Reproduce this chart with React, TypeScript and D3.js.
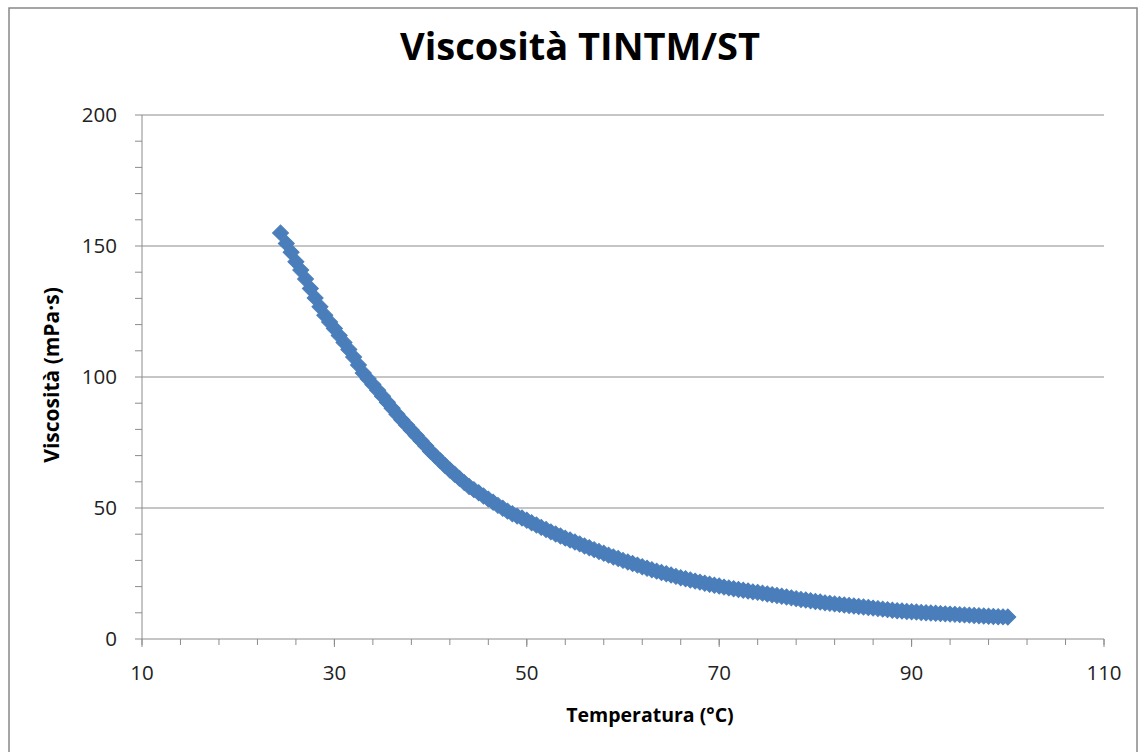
import React from "react";
import * as d3 from "d3";

const temperatures: number[] = [
  24.4, 25.0, 25.5, 26.0, 26.5, 27.0, 27.5, 28.0, 28.5, 29.0, 29.5, 30.0, 30.5, 31.0, 31.5,
  32.0, 32.5, 33.0, 33.5, 34.0, 34.5, 35.0, 35.5, 36.0, 36.5, 37.0, 37.5, 38.0, 38.5, 39.0,
  39.5, 40.0, 40.5, 41.0, 41.5, 42.0, 42.5, 43.0, 43.5, 44.0, 44.5, 45.0, 45.5, 46.0, 46.5,
  47.0, 47.5, 48.0, 48.5, 49.0, 49.5, 50.0, 50.5, 51.0, 51.5, 52.0, 52.5, 53.0, 53.5, 54.0,
  54.5, 55.0, 55.5, 56.0, 56.5, 57.0, 57.5, 58.0, 58.5, 59.0, 59.5, 60.0, 60.5, 61.0, 61.5,
  62.0, 62.5, 63.0, 63.5, 64.0, 64.5, 65.0, 65.5, 66.0, 66.5, 67.0, 67.5, 68.0, 68.5, 69.0,
  69.5, 70.0, 70.5, 71.0, 71.5, 72.0, 72.5, 73.0, 73.5, 74.0, 74.5, 75.0, 75.5, 76.0, 76.5,
  77.0, 77.5, 78.0, 78.5, 79.0, 79.5, 80.0, 80.5, 81.0, 81.5, 82.0, 82.5, 83.0, 83.5, 84.0,
  84.5, 85.0, 85.5, 86.0, 86.5, 87.0, 87.5, 88.0, 88.5, 89.0, 89.5, 90.0, 90.5, 91.0, 91.5,
  92.0, 92.5, 93.0, 93.5, 94.0, 94.5, 95.0, 95.5, 96.0, 96.5, 97.0, 97.5, 98.0, 98.5, 99.0,
  99.5, 100.0,
];

const viscosities: number[] = [
  155.0, 151.0, 147.6, 144.0, 140.8, 137.4, 133.8, 130.2, 126.8, 123.6, 121.0, 118.5, 115.8, 113.2, 110.5,
  107.6, 104.6, 101.5, 99.3, 97.1, 94.9, 92.7, 90.4, 88.1, 85.8, 83.7, 81.7, 79.7, 77.7, 75.7,
  73.7, 71.6, 69.8, 68.0, 66.2, 64.5, 62.9, 61.3, 59.7, 58.2, 57.0, 55.8, 54.6, 53.4, 52.2,
  51.0, 49.9, 48.8, 47.8, 46.9, 46.2, 45.3, 44.4, 43.5, 42.6, 41.8, 40.9, 40.1, 39.3, 38.5,
  37.8, 37.0, 36.3, 35.5, 34.8, 34.1, 33.4, 32.7, 32.0, 31.3, 30.7, 30.0, 29.4, 28.8, 28.2,
  27.6, 27.0, 26.4, 25.9, 25.4, 24.9, 24.4, 23.9, 23.4, 23.0, 22.5, 22.1, 21.7, 21.3, 20.9,
  20.5, 20.2, 19.8, 19.5, 19.2, 18.9, 18.6, 18.3, 18.0, 17.8, 17.5, 17.2, 16.9, 16.6, 16.3,
  16.0, 15.7, 15.4, 15.1, 14.9, 14.6, 14.3, 14.1, 13.8, 13.6, 13.4, 13.2, 13.0, 12.8, 12.6,
  12.4, 12.2, 12.0, 11.8, 11.6, 11.4, 11.2, 11.0, 10.8, 10.7, 10.5, 10.4, 10.3, 10.1, 10.0,
  9.9, 9.8, 9.7, 9.6, 9.5, 9.4, 9.3, 9.2, 9.1, 9.0, 8.9, 8.8, 8.7, 8.6, 8.5,
  8.45, 8.4,
];

const xTicks: number[] = [10, 30, 50, 70, 90, 110];
const yTicks: number[] = [0, 50, 100, 150, 200];
const xMinorStep = 4;
const yMinorStep = 10;

const title = "Viscosità TINTM/ST";
const xTitle = "Temperatura (°C)";
const yTitle = "Viscosità (mPa·s)";

export default function App() {
  const W = 1140;
  const H = 752;
  const left = 142;
  const right = 1104;
  const top = 115;
  const bottom = 639;

  const x = d3.scaleLinear().domain([10, 110]).range([left, right]);
  const y = d3.scaleLinear().domain([0, 200]).range([bottom, top]);

  const xMinor = d3.range(10, 110 + 0.001, xMinorStep);
  const yMinor = d3.range(0, 200 + 0.001, yMinorStep);

  const marker = d3.symbol().type(d3.symbolSquare).size(128)() as string;
  const axisColor = "#8c8c8c";
  const gridColor = "#8c8c8c";
  const blue = "#4a7ebb";
  const font = "'Open Sans', 'Noto Sans', sans-serif";

  return (
    <svg
      width={W}
      height={H}
      style={{ position: "absolute", left: 0, top: 0, background: "#fff" }}
      fontFamily={font}
    >
      <rect x={0} y={0} width={W} height={H} fill="#fff" />
      <rect x={9} y={8} width={1128} height={800} fill="#fff" stroke="#888" strokeWidth={1.5} />

      {yTicks.filter((t) => t > 0).map((t) => (
        <line key={"g" + t} x1={left} x2={right} y1={y(t)} y2={y(t)} stroke={gridColor} strokeWidth={1} />
      ))}

      <line x1={left} x2={left} y1={top} y2={bottom} stroke={axisColor} strokeWidth={1} />
      {yMinor.map((t) => (
        <line key={"ym" + t} x1={left - 7} x2={left} y1={y(t)} y2={y(t)} stroke={axisColor} strokeWidth={1} />
      ))}
      {yTicks.map((t) => (
        <text key={"yl" + t} x={117} y={y(t)} dy="0.35em" textAnchor="end" fontSize={20.5} fill="#222">
          {t}
        </text>
      ))}

      <line x1={left} x2={right} y1={bottom} y2={bottom} stroke={axisColor} strokeWidth={1.2} />
      {xMinor.map((t) => (
        <line key={"xm" + t} x1={x(t)} x2={x(t)} y1={bottom} y2={bottom + 6} stroke={axisColor} strokeWidth={1} />
      ))}
      {xTicks.map((t) => (
        <line key={"xM" + t} x1={x(t)} x2={x(t)} y1={bottom} y2={bottom + 8} stroke={axisColor} strokeWidth={1} />
      ))}
      {xTicks.map((t) => (
        <text key={"xl" + t} x={x(t)} y={680} textAnchor="middle" fontSize={20.5} fill="#222">
          {t}
        </text>
      ))}

      {temperatures.map((t, i) => (
        <path
          key={"p" + i}
          d={marker}
          transform={`translate(${x(t)},${y(viscosities[i])}) rotate(45)`}
          fill={blue}
          stroke={blue}
          strokeWidth={1}
        />
      ))}

      <text x={580} y={60} textAnchor="middle" fontSize={38} fontWeight="bold" fill="#000">
        {title}
      </text>
      <text x={650} y={722} textAnchor="middle" fontSize={19.5} fontWeight="bold" fill="#000">
        {xTitle}
      </text>
      <text
        transform={`translate(52,${(top + bottom) / 2 - 2}) rotate(-90)`}
        textAnchor="middle"
        dy="0.35em"
        fontSize={21}
        fontWeight="bold"
        fill="#000"
      >
        {yTitle}
      </text>
    </svg>
  );
}
